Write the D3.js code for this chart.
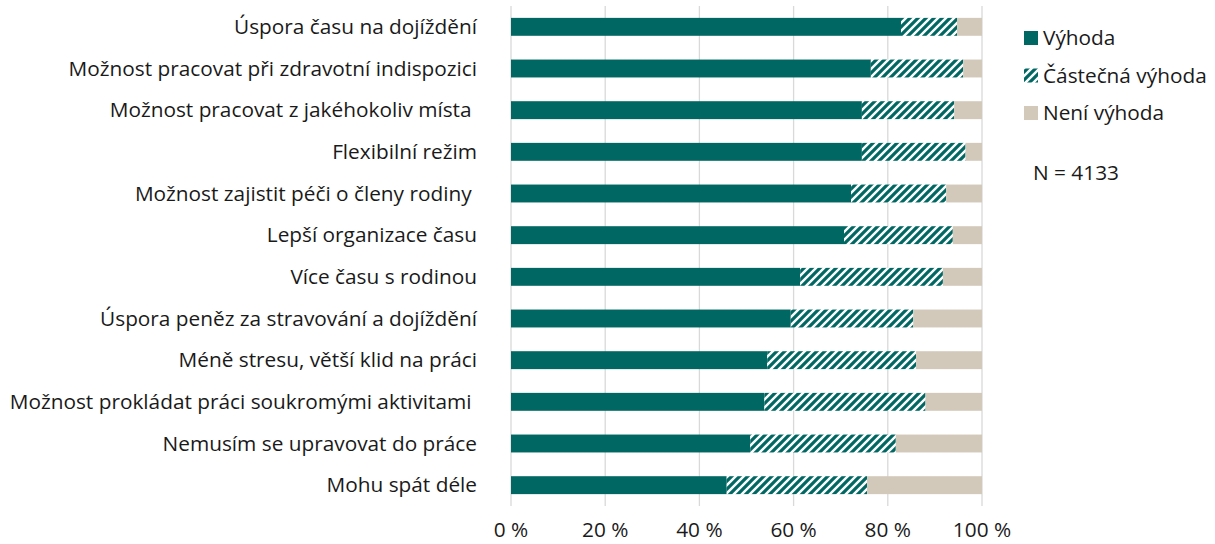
<!DOCTYPE html>
<html>
<head>
<meta charset="utf-8">
<script src="https://cdn.jsdelivr.net/npm/d3@7"></script>
<style>
  body { margin: 0; background: #fff; }
  svg text { font-family: "Open Sans", "Noto Sans", sans-serif; fill: #1a1a1a; white-space: pre; }
</style>
</head>
<body>
<div id="chart"></div>
<script>
// kategorie (shora dolů)
let categories = [
  "Úspora času na dojíždění",
  "Možnost pracovat při zdravotní indispozici",
  "Možnost pracovat z jakéhokoliv místa ",
  "Flexibilní režim",
  "Možnost zajistit péči o členy rodiny ",
  "Lepší organizace času",
  "Více času s rodinou",
  "Úspora peněz za stravování a dojíždění",
  "Méně stresu, větší klid na práci",
  "Možnost prokládat práci soukromými aktivitami ",
  "Nemusím se upravovat do práce",
  "Mohu spát déle"
];
// hodnoty v %
let vyhoda    = [82.8, 76.4, 74.5, 74.5, 72.2, 70.7, 61.4, 59.4, 54.4, 53.8, 50.8, 45.8];
let castecna  = [11.9, 19.6, 19.6, 22.0, 20.2, 23.1, 30.3, 26.0, 31.6, 34.2, 30.9, 29.8];
let neni      = [5.3, 4.0, 5.9, 3.5, 7.6, 6.2, 8.3, 14.6, 14.0, 12.0, 18.3, 24.4];
let series    = ["Výhoda", "Částečná výhoda", "Není výhoda"];
let ticks     = [0, 20, 40, 60, 80, 100];
let note      = "N = 4133";

const width = 1215, height = 544;
const x0 = 511, x1 = 982, y0 = 6, y1 = 506;
const teal = "#006763", beige = "#d3c9bb";
const fs = 20.8;

let svg = d3.select("#chart").append("svg")
  .attr("width", width).attr("height", height);

// šrafování
let defs = svg.append("defs");
let pat = defs.append("pattern")
  .attr("id", "hatch")
  .attr("patternUnits", "userSpaceOnUse")
  .attr("width", 8).attr("height", 8);
pat.append("rect").attr("width", 8).attr("height", 8).attr("fill", "#fff");
pat.append("path")
  .attr("d", "M-2,2 l4,-4 M0,8 l8,-8 M6,10 l4,-4")
  .attr("stroke", teal).attr("stroke-width", 3.2);

let x = d3.scaleLinear().domain([0, 100]).range([x0, x1]);
let y = d3.scaleBand().domain(categories).range([y0, y1])
  .paddingInner(0.57).paddingOuter(0.285);

let fills = [teal, "url(#hatch)", beige];

// mřížka
svg.append("g")
  .selectAll("line")
  .data(ticks)
  .join("line")
  .attr("x1", d => x(d)).attr("x2", d => x(d))
  .attr("y1", y0).attr("y2", y1)
  .attr("stroke", "#d9d9d9").attr("stroke-width", 1.3);

// pruhy
let rows = categories.map((c, i) => {
  let vals = [vyhoda[i], castecna[i], neni[i]];
  let acc = 0;
  return vals.map((v, k) => {
    let s = { cat: c, k: k, a: acc, b: acc + v };
    acc += v;
    return s;
  });
}).flat();

svg.append("g")
  .selectAll("rect")
  .data(rows)
  .join("rect")
  .attr("x", d => x(d.a))
  .attr("width", d => x(Math.min(d.b, 100)) - x(d.a))
  .attr("y", d => y(d.cat))
  .attr("height", y.bandwidth())
  .attr("fill", d => fills[d.k]);

// popisky kategorií
svg.append("g")
  .selectAll("text")
  .data(categories)
  .join("text")
  .attr("x", 477)
  .attr("y", d => y(d) + y.bandwidth() / 2)
  .attr("dy", "0.35em")
  .attr("text-anchor", "end")
  .attr("font-size", fs)
  .text(d => d);

// osa x
svg.append("g")
  .selectAll("text")
  .data(ticks)
  .join("text")
  .attr("x", d => x(d))
  .attr("y", 530)
  .attr("dy", "0.35em")
  .attr("text-anchor", "middle")
  .attr("font-size", fs)
  .text(d => d + " %");

// legenda
let leg = svg.append("g");
series.forEach((s, i) => {
  let ly = 38 + i * 37.5;
  leg.append("rect")
    .attr("x", 1024).attr("y", ly - 7).attr("width", 14).attr("height", 14)
    .attr("fill", fills[i]);
  leg.append("text")
    .attr("x", 1043).attr("y", ly).attr("dy", "0.35em")
    .attr("font-size", fs)
    .text(s);
});
svg.append("text")
  .attr("x", 1033).attr("y", 173).attr("dy", "0.35em")
  .attr("font-size", fs)
  .text(note);
</script>
</body>
</html>
